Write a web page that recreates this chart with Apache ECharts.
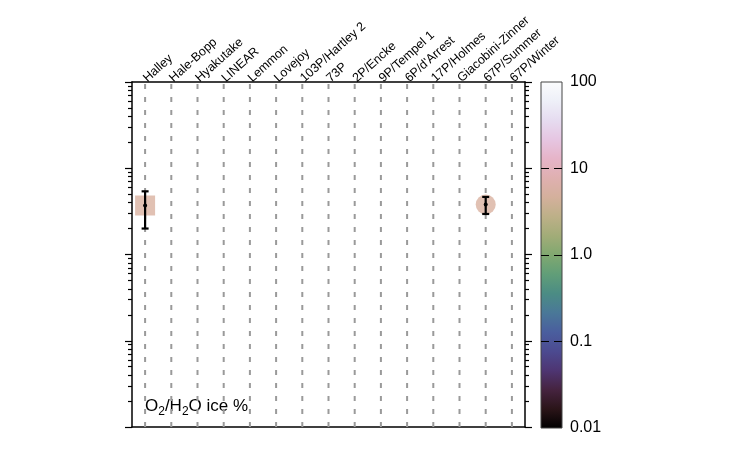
<!DOCTYPE html>
<html>
<head>
<meta charset="utf-8">
<title>O2/H2O ice</title>
<script src="https://cdn.jsdelivr.net/npm/echarts@6/dist/echarts.min.js"></script>
<style>html,body{margin:0;padding:0;background:#fff;}</style>
</head>
<body>
<div id="main" style="width:750px;height:450px;"></div>
<script type="text/javascript">
var comets = ['Halley', 'Hale-Bopp', 'Hyakutake', 'LINEAR', 'Lemmon', 'Lovejoy', '103P/Hartley 2', '73P',
  '2P/Encke', '9P/Tempel 1', "6P/d'Arrest", '17P/Holmes', 'Giacobini-Zinner', '67P/Summer', '67P/Winter'];

// O2/H2O ice (%): [comet, value, low, high]
var halley = [['Halley', 3.7, 2.0, 5.4]];
var summer67P = [['67P/Summer', 3.8, 2.95, 4.65]];

var decades = [0.01, 0.1, 1, 10, 100];
var barLabels = ['0.01', '0.1', '1.0', '10', '100'];
// colour bar, from top (100) to bottom (0.01)
var barColors = ['#fbfcfd', '#eef0f8', '#e6dcf0', '#e6c6e2', '#e6b4c8', '#dfb0b0', '#d4b09c', '#bdb088',
  '#a2ac78', '#80a870', '#619e78', '#4b8c84', '#4a7898', '#4a5e9e', '#4c4a90', '#4e3572', '#45233f',
  '#2a1418', '#000000'];

var markerColor = '#d9b2a0';
var font = 'Liberation Sans, Arial, sans-serif';

var majorTicks = decades.map(function (d) { return Math.log10(d); });
var minorTicks = [];
decades.slice(0, -1).forEach(function (d) {
  for (var k = 2; k <= 9; k++) minorTicks.push(Math.log10(k * d));
});

function tickAxis(pos, values, len, showLine) {
  return {
    type: 'value', gridIndex: 0, position: pos, min: -2, max: 2,
    axisLine: { show: showLine, onZero: false, lineStyle: { color: '#000', width: 1.5 } },
    axisTick: { show: true, customValues: values, length: len, lineStyle: { color: '#000', width: 1.2 } },
    axisLabel: { show: false },
    splitLine: { show: false }
  };
}

var myChart = echarts.init(document.getElementById('main'));

var option = {
  animation: false,
  textStyle: { fontFamily: font },
  grid: [
    { left: 132, top: 82, width: 393, height: 345 },
    { left: 541, top: 82, width: 21, height: 346 }
  ],
  xAxis: [
    {
      type: 'category', gridIndex: 0, position: 'top', data: comets,
      axisLine: { onZero: false, lineStyle: { color: '#000', width: 1.5 } },
      axisTick: { alignWithLabel: true, length: 6, lineStyle: { color: '#000', width: 1.2 } },
      axisLabel: { rotate: -42, margin: 2, fontSize: 12.5, color: '#000', interval: 0, fontFamily: font },
      splitLine: { show: false }
    },
    {
      type: 'category', gridIndex: 0, position: 'bottom', data: comets,
      axisLine: { onZero: false, lineStyle: { color: '#000', width: 1.5 } },
      axisTick: { alignWithLabel: true, length: 6, lineStyle: { color: '#000', width: 1.2 } },
      axisLabel: { show: false },
      splitLine: { show: false }
    },
    { type: 'value', gridIndex: 1, min: 0, max: 1, show: false }
  ],
  yAxis: [
    {
      type: 'log', gridIndex: 0, position: 'left', min: 0.01, max: 100, logBase: 10,
      axisLine: { show: true, onZero: false, lineStyle: { color: '#000', width: 1.5 } },
      axisTick: { show: false }, axisLabel: { show: false }, splitLine: { show: false }
    },
    tickAxis('left', majorTicks, 7, false),
    tickAxis('left', minorTicks, 4, false),
    tickAxis('right', majorTicks, 7, true),
    tickAxis('right', minorTicks, 4, false),
    {
      type: 'value', gridIndex: 1, position: 'right', min: -2, max: 2, interval: 1,
      axisLine: { show: false, onZero: false },
      axisTick: { show: false },
      axisLabel: {
        margin: 8, fontSize: 16, color: '#000', fontFamily: font,
        formatter: function (v) { return barLabels[Math.round(v) + 2]; }
      },
      splitLine: { show: true, showMinLine: false, showMaxLine: false,
        lineStyle: { color: '#000', width: 1.2, type: [8, 5] } }
    }
  ],
  graphic: [{
    type: 'text', left: 145, top: 398,
    style: {
      text: '{a|O}{s|2}{a|/H}{s|2}{a|O ice %}',
      fill: '#000',
      rich: {
        a: { fontSize: 17, lineHeight: 22, fontFamily: font, fill: '#000' },
        s: { fontSize: 12, lineHeight: 12, verticalAlign: 'bottom', fontFamily: font, fill: '#000' }
      }
    }
  }],
  series: [
    {
      // dashed guide line at every comet
      type: 'custom', xAxisIndex: 0, yAxisIndex: 0, z: 1, silent: true,
      data: comets.map(function (c) { return [c, 1]; }),
      encode: { x: 0, y: 1 },
      renderItem: function (params, api) {
        var x = api.value(0);
        var top = api.coord([x, 100]);
        var bot = api.coord([x, 0.01]);
        return {
          type: 'line',
          shape: { x1: top[0], y1: top[1] + 2, x2: bot[0], y2: bot[1] },
          style: { stroke: '#9a9a9a', lineWidth: 2, lineDash: [5, 8] }
        };
      }
    },
    {
      type: 'scatter', xAxisIndex: 0, yAxisIndex: 0, symbol: 'rect', symbolSize: 20, z: 3,
      itemStyle: { color: markerColor },
      data: halley.map(function (d) { return [d[0], d[1]]; })
    },
    {
      type: 'scatter', xAxisIndex: 0, yAxisIndex: 0, symbol: 'circle', symbolSize: 20, z: 3,
      itemStyle: { color: markerColor },
      data: summer67P.map(function (d) { return [d[0], d[1]]; })
    },
    {
      // error bars
      type: 'custom', xAxisIndex: 0, yAxisIndex: 0, z: 5, silent: true,
      data: halley.concat(summer67P),
      encode: { x: 0, y: [1, 2, 3] },
      renderItem: function (params, api) {
        var x = api.value(0);
        var mid = api.coord([x, api.value(1)]);
        var lo = api.coord([x, api.value(2)]);
        var hi = api.coord([x, api.value(3)]);
        var w = 3.5;
        var st = { stroke: '#000', lineWidth: 2.2 };
        return {
          type: 'group',
          children: [
            { type: 'line', shape: { x1: lo[0], y1: lo[1], x2: hi[0], y2: hi[1] }, style: st },
            { type: 'line', shape: { x1: lo[0] - w, y1: lo[1], x2: lo[0] + w, y2: lo[1] }, style: st },
            { type: 'line', shape: { x1: hi[0] - w, y1: hi[1], x2: hi[0] + w, y2: hi[1] }, style: st },
            { type: 'circle', shape: { cx: mid[0], cy: mid[1], r: 2 }, style: { fill: '#000' } }
          ]
        };
      }
    },
    {
      // colour bar
      type: 'custom', xAxisIndex: 2, yAxisIndex: 5, z: -1, silent: true,
      data: [[0, 2, 1, -2]],
      renderItem: function (params, api) {
        var p1 = api.coord([api.value(0), api.value(1)]);
        var p2 = api.coord([api.value(2), api.value(3)]);
        var stops = barColors.map(function (c, i) {
          return { offset: i / (barColors.length - 1), color: c };
        });
        return {
          type: 'rect',
          shape: { x: p1[0], y: p1[1], width: p2[0] - p1[0], height: p2[1] - p1[1] },
          style: {
            fill: new echarts.graphic.LinearGradient(0, 0, 0, 1, stops),
            stroke: '#444', lineWidth: 1
          }
        };
      }
    }
  ]
};

myChart.setOption(option);
</script>
</body>
</html>
